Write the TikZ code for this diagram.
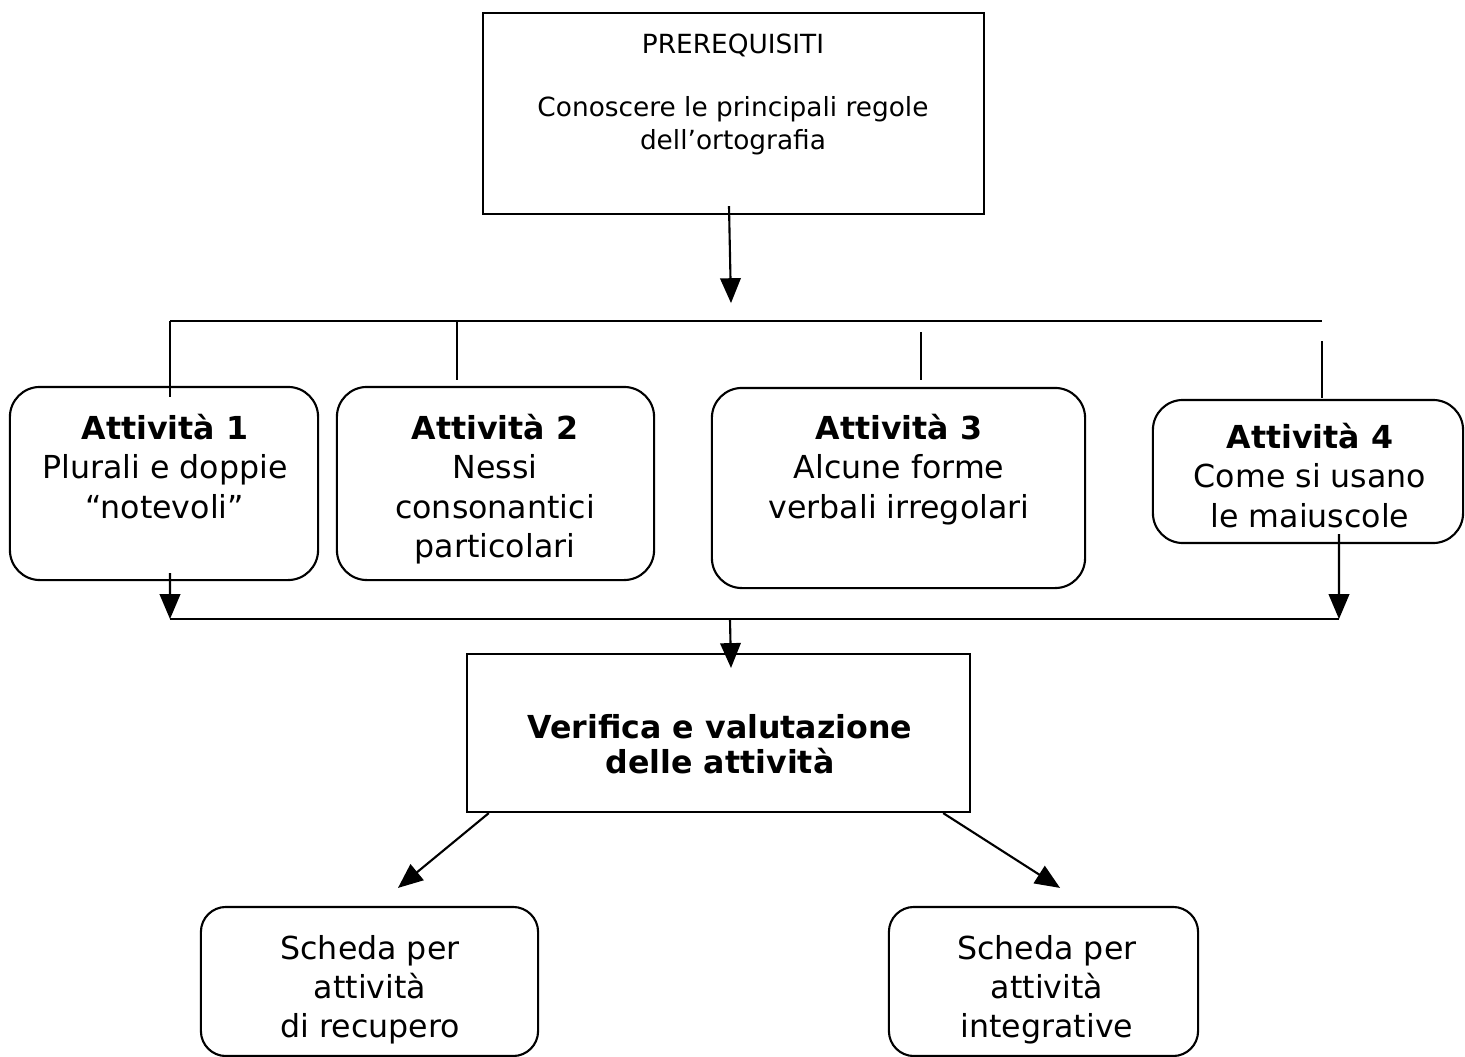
\documentclass[tikz,border=0pt]{standalone}
\usepackage{fontspec}
\setmainfont{DejaVu Sans}
\usetikzlibrary{arrows}

\begin{document}
\begin{tikzpicture}[x=0.01cm,y=-0.01cm,line width=0.6pt,>=triangle 45,
  sqbox/.style={draw,rectangle,inner sep=0},
  rndbox/.style={draw,rectangle,rounded corners=0.3cm,inner sep=0},
  boxtxt/.style={anchor=north,align=center,inner sep=0,font=\fontsize{9}{11.2}\selectfont}]

\useasboundingbox (0,0) rectangle (1465,1057);

% boxes
\node[sqbox,minimum width=5.01cm,minimum height=2.01cm] (prereq) at (733.5,113.5) {};
\node[rndbox,minimum width=3.08cm,minimum height=1.93cm] (att1) at (164,483.5) {};
\node[rndbox,minimum width=3.17cm,minimum height=1.93cm] (att2) at (495.5,483.5) {};
\node[rndbox,minimum width=3.73cm,minimum height=2.00cm] (att3) at (898.5,488) {};
\node[rndbox,minimum width=3.10cm,minimum height=1.43cm] (att4) at (1308,471.5) {};
\node[sqbox,minimum width=5.03cm,minimum height=1.58cm] (verif) at (718.5,733) {};
\node[rndbox,rounded corners=0.25cm,minimum width=3.37cm,minimum height=1.49cm] (recup) at (369.5,981.5) {};
\node[rndbox,rounded corners=0.25cm,minimum width=3.09cm,minimum height=1.49cm] (integr) at (1043.5,981.5) {};

% texts
\node[boxtxt,font=\fontsize{7.5}{9.4}\selectfont] (prereqtxt) at (733,33)
  {PREREQUISITI\\[0.3cm]Conoscere le principali regole\\dell’ortografia};
\node[boxtxt] (att1txt) at (165,413) {\textbf{Attività 1}\\Plurali e doppie\\“notevoli”};
\node[boxtxt] (att2txt) at (495,413) {\textbf{Attività 2}\\Nessi\\consonantici\\particolari};
\node[boxtxt] (att3txt) at (899,413) {\textbf{Attività 3}\\Alcune forme\\verbali irregolari};
\node[boxtxt] (att4txt) at (1310,422) {\textbf{Attività 4}\\Come si usano\\le maiuscole};
\node[boxtxt,font=\fontsize{9}{10}\selectfont\bfseries] (veriftxt) at (720,713)
  {Verifica e valutazione\\delle attività};
\node[boxtxt] (recuptxt) at (370,934) {Scheda per\\attività\\di recupero};
\node[boxtxt] (integrtxt) at (1047,934) {Scheda per\\attività\\integrative};

% upper bus
\coordinate (busL) at (170,321);
\coordinate (busR) at (1322,321);
\coordinate (busend) at (731,303);
\draw[->] ([xshift=-0.045cm,yshift=0.09cm]prereq.south) -- (busend);
\draw (busL) -- (busR);
\foreach \x/\ya/\yb in {170/321/397,457/321/380,921/332/380,1322/341/398}
{
\draw (\x,\ya) -- (\x,\yb);
}

% lower bus
\coordinate (lowL) at (170,619);
\coordinate (lowR) at (1339,619);
\coordinate (lowmid) at (730,619);
\draw (lowL) -- (lowR);
\draw[->] ([xshift=0.06cm,yshift=0.08cm]att1.south) -- (lowL);
\draw[->] ([xshift=0.31cm,yshift=0.1cm]att4.south) -- (lowR);
\draw[->] (lowmid) -- ([xshift=0.125cm,yshift=-0.15cm]verif.north);

% outcomes
\draw[->] ([xshift=0.23cm]verif.south west) -- ([xshift=0.285cm,yshift=0.18cm]recup.north);
\draw[->] ([xshift=-0.28cm]verif.south east) -- ([xshift=0.165cm,yshift=0.18cm]integr.north);
\end{tikzpicture}
\end{document}
